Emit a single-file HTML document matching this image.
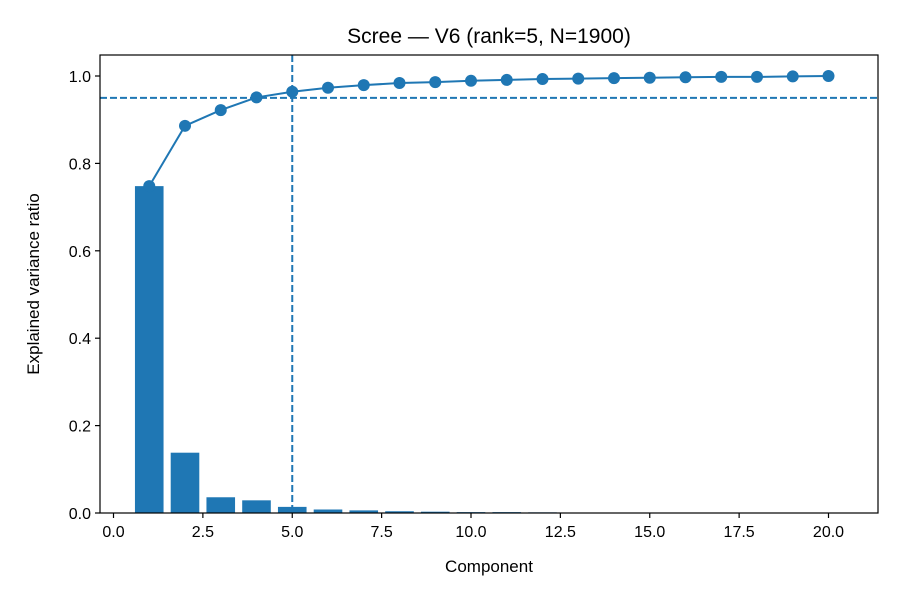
<!DOCTYPE html>
<html><head><meta charset="utf-8"><style>
body{margin:0;background:#fff;}
svg{display:block;font-family:"Liberation Sans","DejaVu Sans",sans-serif;}
</style></head><body>
<svg id="chart" width="900" height="600">
<rect width="900" height="600" fill="#fff"/>
<text x="489" y="43" font-size="21" text-anchor="middle">Scree — V6 (rank=5, N=1900)</text>
<g id="bars"></g>
<g id="lines"></g>
<g id="axes"></g>
<text x="489" y="572" font-size="17" text-anchor="middle">Component</text>
<text transform="translate(39,284) rotate(-90)" font-size="17" text-anchor="middle">Explained variance ratio</text>
</svg>
<script>
const components=[1,2,3,4,5,6,7,8,9,10,11,12,13,14,15,16,17,18,19,20];
const ratios=[0.748,0.138,0.036,0.029,0.014,0.008,0.006,0.004,0.003,0.002,0.002,0.0015,0.001,0.001,0.001,0.001,0.001,0.001,0.001,0.001];
const cumulative=[0.748,0.886,0.922,0.951,0.964,0.973,0.979,0.984,0.986,0.989,0.991,0.993,0.994,0.995,0.996,0.997,0.998,0.998,0.999,1.0];
const xTicks=[0,2.5,5,7.5,10,12.5,15,17.5,20];
const xTickLabels=["0.0","2.5","5.0","7.5","10.0","12.5","15.0","17.5","20.0"];
const yTicks=[0,0.2,0.4,0.6,0.8,1.0];
const yTickLabels=["0.0","0.2","0.4","0.6","0.8","1.0"];
const threshold=0.95, rank=5;

const L=100,R=878,T=55,B=513;
const X=v=>113.5+v*35.75;
const Y=v=>513-v*437;
const NS="http://www.w3.org/2000/svg";
function mk(tag,attrs,parent){const e=document.createElementNS(NS,tag);for(const k in attrs)e.setAttribute(k,attrs[k]);parent.appendChild(e);return e;}
const C="#1f77b4";
const bars=document.getElementById('bars');
components.forEach((c,i)=>{
  const r=mk('rect',{x:X(c-0.4),y:Y(ratios[i]),width:X(0.8)-X(0),height:Y(0)-Y(ratios[i]),fill:C},bars);
  
  
});
const lines=document.getElementById('lines');
const pl=mk('polyline',{points:components.map((c,i)=>X(c)+','+Y(cumulative[i])).join(' '),fill:'none',stroke:C,'stroke-width':2},lines);


components.forEach((c,i)=>{
  const p=mk('circle',{cx:X(c),cy:Y(cumulative[i]),r:6,fill:C},lines);
  
  
});
const hl=mk('line',{x1:L,x2:R,y1:Y(threshold),y2:Y(threshold),stroke:C,'stroke-width':2,'stroke-dasharray':'7,3'},lines);


const vl=mk('line',{x1:X(rank),x2:X(rank),y1:T,y2:B,stroke:C,'stroke-width':2,'stroke-dasharray':'7,3'},lines);


const ax=document.getElementById('axes');
const fr=mk('rect',{x:L,y:T,width:R-L,height:B-T,fill:'none',stroke:'#000','stroke-width':1.2},ax);


xTicks.forEach((v,i)=>{
  mk('line',{x1:X(v),x2:X(v),y1:B,y2:B+5,stroke:'#000','stroke-width':1.2},ax);
  const t=mk('text',{x:X(v),y:B+24,'font-size':16,'text-anchor':'middle'},ax);
  t.textContent=xTickLabels[i];
  
  
});
yTicks.forEach((v,i)=>{
  mk('line',{x1:L-5,x2:L,y1:Y(v),y2:Y(v),stroke:'#000','stroke-width':1.2},ax);
  const t=mk('text',{x:L-9,y:Y(v)+6,'font-size':16,'text-anchor':'end'},ax);
  t.textContent=yTickLabels[i];
  
  
});
</script>
</body></html>
